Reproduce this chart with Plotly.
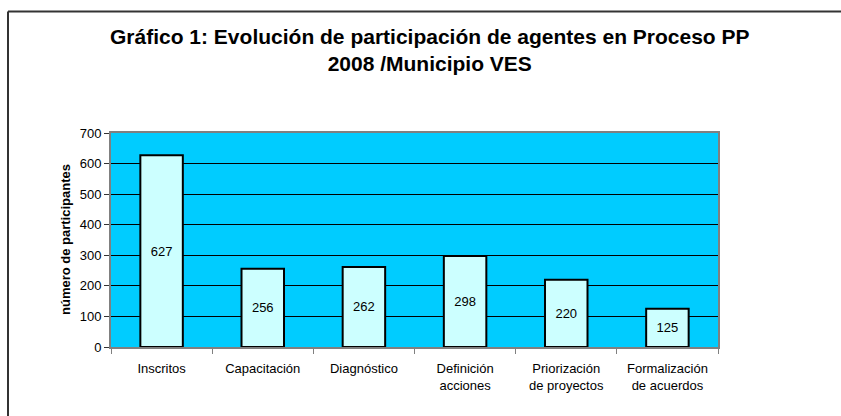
import plotly.graph_objects as go

categories = ["Inscritos", "Capacitación", "Diagnóstico", "Definición<br>acciones",
              "Priorización<br>de proyectos", "Formalización<br>de acuerdos"]
values = [627, 256, 262, 298, 220, 125]
y_ticks = [0, 100, 200, 300, 400, 500, 600, 700]
title_text = "<b>Gráfico 1: Evolución de participación de agentes en Proceso PP<br>2008 /Municipio VES</b>"

W, H = 841, 416
L, R, T, B = 111, 718, 133, 347  # plot area in px
FONT = "Liberation Sans, Arial, sans-serif"


def px_x(p):
    return (p - L) / (R - L)


def px_y(p):
    return (B - p) / (B - T)


fig = go.Figure(go.Bar(
    x=categories, y=values,
    width=0.42,
    marker=dict(color="#CCFFFF", line=dict(color="black", width=2)),
    text=[str(v) for v in values],
    textposition="inside", insidetextanchor="middle",
    textfont=dict(family=FONT, size=13, color="black"),
    hoverinfo="x+y",
))

border = dict(color="#333333", width=2)

fig.update_layout(
    width=W, height=H,
    margin=dict(l=L, r=W - R, t=T, b=H - B, pad=0),
    paper_bgcolor="white", plot_bgcolor="#00CCFF",
    font=dict(family=FONT, size=13, color="black"),
    showlegend=False,
    xaxis=dict(
        type="category", tickson="boundaries", ticks="outside", ticklen=5,
        tickcolor="#808080", tickwidth=1, ticklabelstandoff=8,
        showline=True, linecolor="#808080", linewidth=2, mirror=True,
        showgrid=False, tickfont=dict(family=FONT, size=13, color="black"),
    ),
    yaxis=dict(
        range=[0, 700], tickvals=y_ticks, ticks="outside", ticklen=5,
        tickcolor="#333333", showline=True, linecolor="#808080", linewidth=2,
        mirror=True, showgrid=True, gridcolor="#000000", gridwidth=1,
        zeroline=False, tickfont=dict(family=FONT, size=13, color="black"),
    ),
    annotations=[
        dict(
            text="<b>número de participantes</b>", textangle=-90,
            xref="paper", yref="paper", x=px_x(65), y=px_y(240),
            xanchor="center", yanchor="middle", showarrow=False,
            font=dict(family=FONT, size=13, color="black"),
        ),
        dict(
            text=title_text,
            xref="paper", yref="paper", x=px_x(430), y=px_y(50),
            xanchor="center", yanchor="middle", showarrow=False,
            font=dict(family=FONT, size=21, color="black"),
        ),
    ],
    shapes=[
        dict(type="line", xref="paper", yref="paper",
             x0=px_x(8), x1=px_x(900), y0=px_y(11.5), y1=px_y(11.5),
             line=border, layer="below"),
        dict(type="line", xref="paper", yref="paper",
             x0=px_x(8), x1=px_x(8), y0=px_y(11.5), y1=px_y(470),
             line=border, layer="below"),
    ],
)

fig.write_html("out.html", config={"displayModeBar": False},
               post_script="document.body.style.margin='0';document.body.style.overflow='hidden';")
